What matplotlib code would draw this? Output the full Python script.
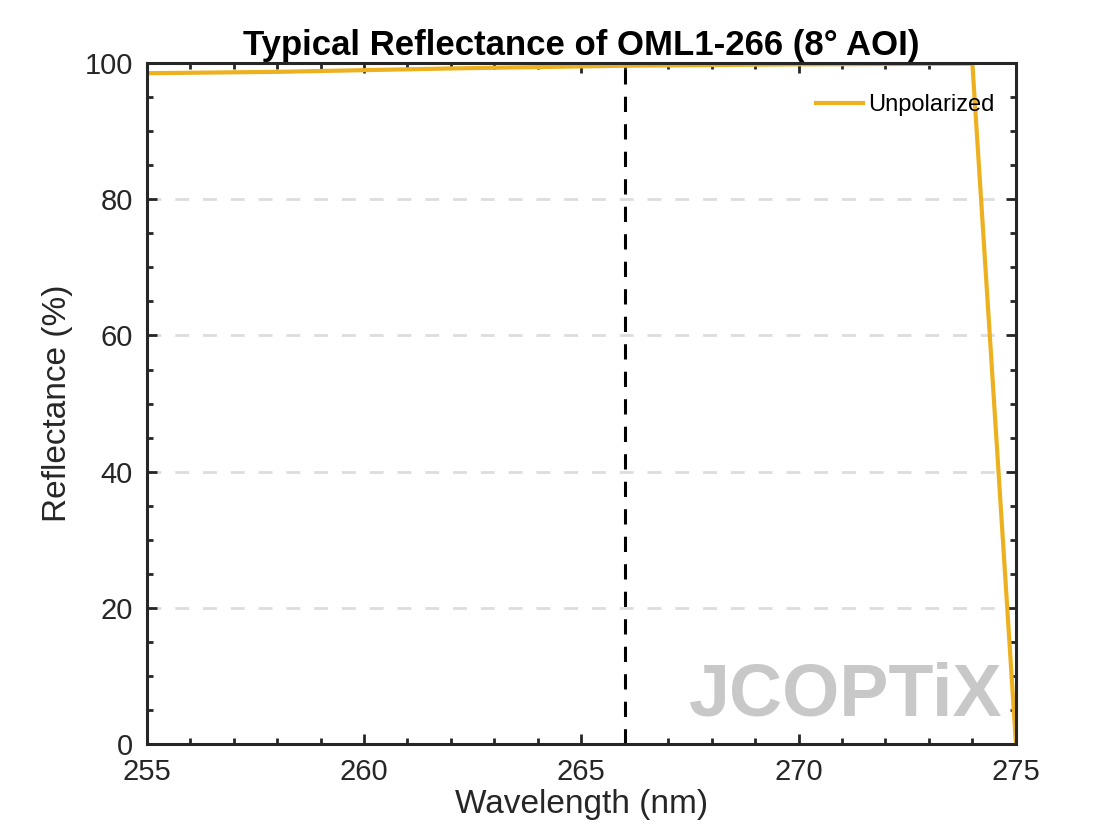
import matplotlib.pyplot as plt
from matplotlib.ticker import MultipleLocator

wavelength = [255, 258, 262, 266, 270, 274, 275]
reflectance = [98.5, 98.7, 99.2, 99.6, 99.8, 99.9, 0.3]
design_wl = 266
title = "Typical Reflectance of OML1-266 (8° AOI)"

plt.rcParams["font.family"] = "Liberation Sans"

fig = plt.figure(figsize=(11.2, 8.4), dpi=100)
ax = fig.add_axes([0.131, 0.114, 0.776, 0.811])

ax.plot(wavelength, reflectance, color="#EDB120", linewidth=3, label="Unpolarized")
ax.axvline(design_wl, color="black", linestyle=(0, (5, 4)), linewidth=2.2)

ax.set_xlim(255, 275)
ax.set_ylim(0, 100)
ax.xaxis.set_major_locator(MultipleLocator(5))
ax.xaxis.set_minor_locator(MultipleLocator(1))
ax.yaxis.set_major_locator(MultipleLocator(20))
ax.yaxis.set_minor_locator(MultipleLocator(5))
ax.tick_params(which="both", direction="in", top=True, right=True, width=2,
               labelsize=21, colors="#262626", pad=10)
ax.tick_params(which="major", length=7)
ax.tick_params(which="minor", length=4)
ax.grid(axis="y", color="#DDDDDD", linestyle=(0, (5, 5)), linewidth=2)
for s in ax.spines.values():
    s.set_linewidth(2.2)
    s.set_color("#262626")

ax.set_xlabel("Wavelength (nm)", fontsize=24, color="#262626", labelpad=2)
ax.set_ylabel("Reflectance (%)", fontsize=24, color="#262626", labelpad=8)
ax.set_title(title, fontsize=25, fontweight="bold", pad=6)

ax.legend(loc="upper right", frameon=False, fontsize=17, handlelength=2.0,
          handletextpad=0.2, bbox_to_anchor=(1.0, 0.985))

ax.text(0.985, 0.02, "JCOPTiX", transform=ax.transAxes, ha="right", va="bottom",
        fontsize=53, fontweight="bold", color="#BBBBBB", alpha=0.8)

fig.savefig("out.png")
